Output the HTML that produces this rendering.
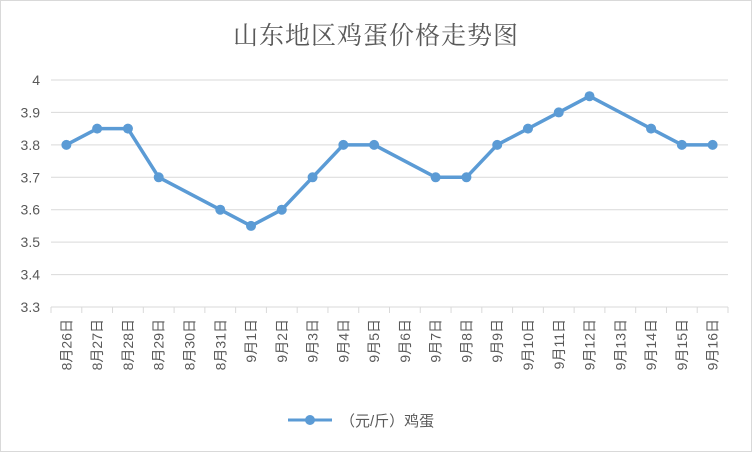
<!DOCTYPE html>
<html><head><meta charset="utf-8"><style>
body{margin:0;background:#fff}
svg text{font-family:"Liberation Sans","Noto Sans CJK SC",sans-serif}
</style></head><body>
<svg id="c" width="752" height="452" xmlns="http://www.w3.org/2000/svg">
<rect x="0.5" y="0.5" width="751" height="451" fill="#fff" stroke="#d9d9d9"/>
<text x="376" y="44" text-anchor="middle" font-size="25" fill="#595959" letter-spacing="1" style="font-family:'Liberation Serif','Noto Serif CJK SC',serif">山东地区鸡蛋价格走势图</text>
<g id="grid"></g><g id="xaxis"></g><g id="series"></g>
<g>
<line x1="288" y1="420" x2="332" y2="420" stroke="#5b9bd5" stroke-width="3"/>
<circle cx="310" cy="420" r="5" fill="#5b9bd5"/>
<text x="340" y="426" font-size="15" fill="#595959">（元/斤）鸡蛋</text>
</g>
</svg>
<script>
const categories=["8月26日","8月27日","8月28日","8月29日","8月30日","8月31日","9月1日","9月2日","9月3日","9月4日","9月5日","9月6日","9月7日","9月8日","9月9日","9月10日","9月11日","9月12日","9月13日","9月14日","9月15日","9月16日"];
const prices=[3.8,3.85,3.85,3.7,null,3.6,3.55,3.6,3.7,3.8,3.8,null,3.7,3.7,3.8,3.85,3.9,3.95,null,3.85,3.8,3.8];
const yTicks=[3.3,3.4,3.5,3.6,3.7,3.8,3.9,4];
const NS="http://www.w3.org/2000/svg";
const plotLeft=51,plotRight=728,plotTop=80,plotBottom=307,yMin=3.3,yMax=4;
const step=(plotRight-plotLeft)/categories.length;
const xs=i=>plotLeft+step*(i+0.5);
const ys=v=>plotBottom-(v-yMin)/(yMax-yMin)*(plotBottom-plotTop);
function mk(t,a,p){const e=document.createElementNS(NS,t);for(const k in a)e.setAttribute(k,a[k]);p.appendChild(e);return e;}
const grid=document.getElementById('grid');
yTicks.forEach(v=>{
 const l=mk('line',{x1:plotLeft,x2:plotRight,y1:ys(v),y2:ys(v),stroke:'#d9d9d9'},grid);
 
 
 const t=mk('text',{x:40,y:ys(v)+5,'text-anchor':'end','font-size':14,fill:'#595959'},grid);
 
 
 t.textContent=String(v);
});
const xa=document.getElementById('xaxis');
for(let i=0;i<=categories.length;i++){
 const tk=mk('line',{x1:plotLeft+step*i,x2:plotLeft+step*i,y1:plotBottom,y2:plotBottom+6,stroke:'#d9d9d9'},xa);
 
 
}
categories.forEach((c,i)=>{
 const t=mk('text',{x:0,y:0,'font-size':14,fill:'#595959',transform:`translate(${xs(i)+5},${plotBottom+12}) rotate(-90)`,'text-anchor':'end'},xa);
 
 
 t.textContent=c;
});
const s=document.getElementById('series');
const pts=[];prices.forEach((v,i)=>{if(v!==null)pts.push([xs(i),ys(v)]);});
const pl=mk('polyline',{points:pts.map(p=>p.join(',')).join(' '),fill:'none',stroke:'#5b9bd5','stroke-width':3.5,'stroke-linejoin':'round'},s);


pts.forEach(p=>{
 const c=mk('circle',{cx:p[0],cy:p[1],r:5,fill:'#5b9bd5'},s);
 
 
});
</script>
</body></html>
